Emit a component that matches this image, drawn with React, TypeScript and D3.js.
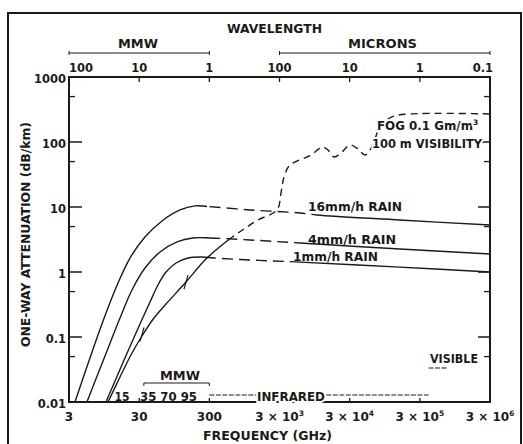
import React from 'react';
import * as d3 from 'd3';

type P = [number, number];

// ---- axis data ----
const yTickValues = [1000, 100, 10, 1, 0.1, 0.01];
const yTickLabels = ['1000', '100', '10', '1', '0.1', '0.01'];
const yMinorTicks = [500, 50, 5, 0.5, 0.05];
const xTickValues = [3, 30, 300, 3000, 30000, 300000, 3000000];
const xTickBase = ['3', '30', '300', '3 × 10', '3 × 10', '3 × 10', '3 × 10'];
const xTickExp = ['', '', '', '3', '4', '5', '6'];
const wavelengthMm = [100, 10, 1, 0.1, 0.01, 0.001, 0.0001];
const wavelengthLabels = ['100', '10', '1', '100', '10', '1', '0.1'];
const mmwTopBandMm = [100, 1];
const micronsTopBandMm = [0.1, 0.0001];

// ---- bands along the bottom (GHz) ----
const mmwBand = [35, 300];
const infraredBand = [300, 400000];
const visibleBand = [400000, 750000];

// ---- series (GHz, dB/km) ----
const rain16: P[] = [[3.65, 0.01], [6.17, 0.0528], [10.1, 0.234], [15.0, 0.678], [22.2, 1.64], [36.3, 3.45], [63.5, 6.09], [114.5, 9.0], [187, 10.4], [278, 10.2], [1139, 9.0], [5870, 8.09], [10240, 7.53], [156000, 6.31], [3000000, 5.28]];
const rain16DashedRange = [278, 10240];

const rain4: P[] = [[5.4, 0.01], [9.78, 0.0511], [16.0, 0.196], [23.7, 0.528], [36.3, 1.153], [59.5, 2.03], [104, 2.9], [175, 3.34], [306, 3.34], [1139, 3.11], [5870, 2.79], [156000, 2.26], [3000000, 1.89]];
const rain4DashedRange = [306, 5870];

const rain1: P[] = [[10.1, 0.01], [18.8, 0.0475], [30.8, 0.158], [42.8, 0.345], [55.6, 0.631], [72.4, 1.0], [100.5, 1.375], [149, 1.64], [236, 1.7], [350, 1.64], [1139, 1.53], [4990, 1.43], [156000, 1.19], [3000000, 1.0]];
const rain1DashedRange = [350, 4990];

const fog: P[] = [[10.8, 0.01], [16.0, 0.0243], [22.9, 0.0528], [32.9, 0.1036], [48.8, 0.196], [72.4, 0.322], [139.5, 0.7], [260, 1.53], [536, 3.0], [848, 4.27], [1481, 6.31], [2762, 9.0], [3150, 16.4], [3477, 28.9], [4096, 42.7], [5324, 51], [7400, 58.8], [9620, 70.2], [12100, 83.8], [14740, 75.3], [17940, 58.8], [22560, 67.7], [30300, 90], [39400, 78], [49600, 63.1], [62400, 83.8], [81100, 170], [120300, 243], [217000, 270], [3000000, 270]];
const fogDashedRange = [631, 3000000];
const fogMarks: P[] = [[33, 0.11], [139.5, 0.7]];

// ---- layout ----
const W = 523;
const H = 444;
const L = 69, R = 490, T = 77, B = 402;
const INK = '#1a1a1a';
const FONT = '"DejaVu Sans", sans-serif';

const x = d3.scaleLog().domain([3, 3e6]).range([L, R]);
const y = d3.scaleLog().domain([0.01, 1000]).range([B, T]);
const fromMm = (mm: number) => 300 / mm; // GHz

const line = d3
  .line<P>()
  .x((d) => x(d[0]))
  .y((d) => y(d[1]))
  .curve(d3.curveCatmullRom.alpha(0.5));

type LabelProps = {
  cx: number;
  cy: number;
  text: string;
  size?: number;
  width?: number;
  anchor?: 'start' | 'middle' | 'end';
  halo?: boolean;
};

function Label({ cx, cy, text, size = 13, width, anchor = 'middle', halo = false }: LabelProps) {
  return (
    <text
      x={cx}
      y={cy + size * 0.36}
      fontSize={size}
      fontFamily={FONT}
      fontWeight="bold"
      textAnchor={anchor}
      fill={INK}
      stroke={halo ? '#fff' : 'none'}
      strokeWidth={halo ? 4 : 0}
      paintOrder="stroke"
      textLength={width}
      lengthAdjust={width ? 'spacingAndGlyphs' : undefined}
    >
      {text}
    </text>
  );
}

type SeriesProps = { id: string; data: P[]; dashed: number[]; dash: string };

function Series({ id, data, dashed, dash }: SeriesProps) {
  const d = line(data)!;
  const xa = x(dashed[0]);
  const xb = Math.min(x(dashed[1]), R + 2);
  const style = { fill: 'none', stroke: INK, strokeWidth: 1.4 } as const;
  return (
    <g>
      <defs>
        <clipPath id={id + '-solid'}>
          <rect x={0} y={0} width={xa} height={H} />
          <rect x={xb} y={0} width={W - xb} height={H} />
        </clipPath>
        <clipPath id={id + '-dash'}>
          <rect x={xa} y={0} width={xb - xa} height={H} />
        </clipPath>
      </defs>
      <path d={d} {...style} clipPath={`url(#${id}-solid)`} />
      <path d={d} {...style} strokeDasharray={dash} clipPath={`url(#${id}-dash)`} />
    </g>
  );
}

export default function App() {
  const topBracketY = 53;
  const bottomBracketY = 383;
  const infraY = 395;
  const visY = 368;
  const nW = wavelengthMm.length;

  return (
    <svg width={W} height={H} style={{ position: 'absolute', left: 0, top: 0, background: '#fff' }}>
      <rect x={0} y={0} width={W} height={H} fill="#fff" />
      {/* outer frame */}
      <rect x={8} y={13} width={513} height={445} fill="none" stroke={INK} strokeWidth={2} />

      {/* curves */}
      <Series id="r16" data={rain16} dashed={rain16DashedRange} dash="11 6" />
      <Series id="r4" data={rain4} dashed={rain4DashedRange} dash="11 6" />
      <Series id="r1" data={rain1} dashed={rain1DashedRange} dash="11 6" />
      <Series id="fog" data={fog} dashed={fogDashedRange} dash="7 5" />
      {fogMarks.map((d, i) => (
        <line key={i} x1={x(d[0]) - 2} y1={y(d[1]) + 7} x2={x(d[0]) + 2} y2={y(d[1]) - 7} stroke={INK} strokeWidth={1.2} />
      ))}

      {/* plot frame */}
      <rect x={L} y={T} width={R - L} height={B - T} fill="none" stroke={INK} strokeWidth={2} />

      {/* y ticks */}
      {yTickValues.map((v, i) => (
        <g key={'yt' + i}>
          <line x1={L} x2={L + 13} y1={y(v)} y2={y(v)} stroke={INK} strokeWidth={1.5} />
          <line x1={R} x2={R - 12} y1={y(v)} y2={y(v)} stroke={INK} strokeWidth={1.5} />
          <Label cx={66} cy={y(v) + 2} text={yTickLabels[i]} size={11.5} anchor="end" />
        </g>
      ))}
      {yMinorTicks.map((v, i) => (
        <g key={'ym' + i}>
          <line x1={L} x2={L + 6} y1={y(v)} y2={y(v)} stroke={INK} strokeWidth={1.3} />
          <line x1={R} x2={R - 6} y1={y(v)} y2={y(v)} stroke={INK} strokeWidth={1.3} />
        </g>
      ))}

      {/* x ticks bottom */}
      {xTickValues.map((v, i) => (
        <g key={'xt' + i}>
          <line x1={x(v)} x2={x(v)} y1={B} y2={B - 4} stroke={INK} strokeWidth={1.3} />
          <text x={x(v)} y={417 + 4.3} fontSize={12} fontFamily={FONT} fontWeight="bold" textAnchor="middle" fill={INK}>
            {xTickBase[i]}
            {xTickExp[i] && (
              <tspan fontSize={7.5} dy={-5}>
                {xTickExp[i]}
              </tspan>
            )}
          </text>
        </g>
      ))}

      {/* top wavelength axis */}
      {wavelengthMm.map((mm, i) => {
        const px = x(fromMm(mm));
        const anchor = i === 0 ? 'start' : i === nW - 1 ? 'end' : 'middle';
        const lx = i === 0 ? px : i === nW - 1 ? px + 3 : px;
        return (
          <g key={'wl' + i}>
            <line x1={px} x2={px} y1={T} y2={T + 5} stroke={INK} strokeWidth={1.3} />
            <Label cx={lx} cy={68} text={wavelengthLabels[i]} size={11.5} anchor={anchor} />
          </g>
        );
      })}
      {[mmwTopBandMm, micronsTopBandMm].map((band, i) => {
        const x1 = x(fromMm(band[0]));
        const x2 = x(fromMm(band[1]));
        return (
          <g key={'tb' + i}>
            <line x1={x1} x2={x2} y1={topBracketY} y2={topBracketY} stroke={INK} strokeWidth={1} />
            <line x1={x1} x2={x1} y1={topBracketY - 2} y2={topBracketY + 2} stroke={INK} strokeWidth={1} />
            <line x1={x2} x2={x2} y1={topBracketY - 2} y2={topBracketY + 2} stroke={INK} strokeWidth={1} />
          </g>
        );
      })}
      <Label cx={274.5} cy={28} text="WAVELENGTH" width={95} />
      <Label cx={138} cy={43} text="MMW" width={40} />
      <Label cx={382.5} cy={43} text="MICRONS" width={69} />

      {/* axis titles */}
      <g transform="translate(25,234.5) rotate(-90)">
        <text x={0} y={13 * 0.36} fontSize={13} fontFamily={FONT} fontWeight="bold" textAnchor="middle" fill={INK} textLength={225} lengthAdjust="spacingAndGlyphs">
          ONE-WAY ATTENUATION (dB/km)
        </text>
      </g>
      <Label cx={267.5} cy={435.5} size={12} text="FREQUENCY (GHz)" width={129} />

      {/* bottom bands */}
      <line x1={x(mmwBand[0])} x2={x(mmwBand[1])} y1={bottomBracketY} y2={bottomBracketY} stroke={INK} strokeWidth={1} />
      <line x1={x(mmwBand[0])} x2={x(mmwBand[0])} y1={bottomBracketY} y2={bottomBracketY + 3} stroke={INK} strokeWidth={1} />
      <line x1={x(mmwBand[1])} x2={x(mmwBand[1])} y1={bottomBracketY} y2={bottomBracketY + 3} stroke={INK} strokeWidth={1} />
      <Label cx={180} cy={375} text="MMW" width={40} />
      <Label cx={122} cy={396} text="15" width={15} />
      <Label cx={168.5} cy={396} text="35 70 95" width={57} />
      <line x1={x(infraredBand[0])} x2={x(infraredBand[1])} y1={infraY} y2={infraY} stroke={INK} strokeWidth={1} strokeDasharray="5 1.5" />
      <Label cx={291} cy={396} text="INFRARED" width={68} halo />
      <line x1={x(visibleBand[0])} x2={x(visibleBand[1])} y1={visY} y2={visY} stroke={INK} strokeWidth={1.2} strokeDasharray="5 1.5" />
      <Label cx={454} cy={358} text="VISIBLE" width={48} />

      {/* curve labels */}
      <Label cx={355} cy={206} text="16mm/h RAIN" width={94} />
      <Label cx={352} cy={239} text="4mm/h RAIN" width={88} />
      <Label cx={335.5} cy={256} text="1mm/h RAIN" width={85} />
      <text x={377} y={126 + 12 * 0.36} fontSize={12} fontFamily={FONT} fontWeight="bold" fill={INK} stroke="#fff" strokeWidth={4} paintOrder="stroke">
        <tspan textLength={96} lengthAdjust="spacingAndGlyphs">FOG 0.1 Gm/m</tspan>
        <tspan fontSize={7.5} dy={-5}>3</tspan>
      </text>
      <Label cx={427} cy={143.5} size={12} text="100 m VISIBILITY" width={110} halo />
    </svg>
  );
}
